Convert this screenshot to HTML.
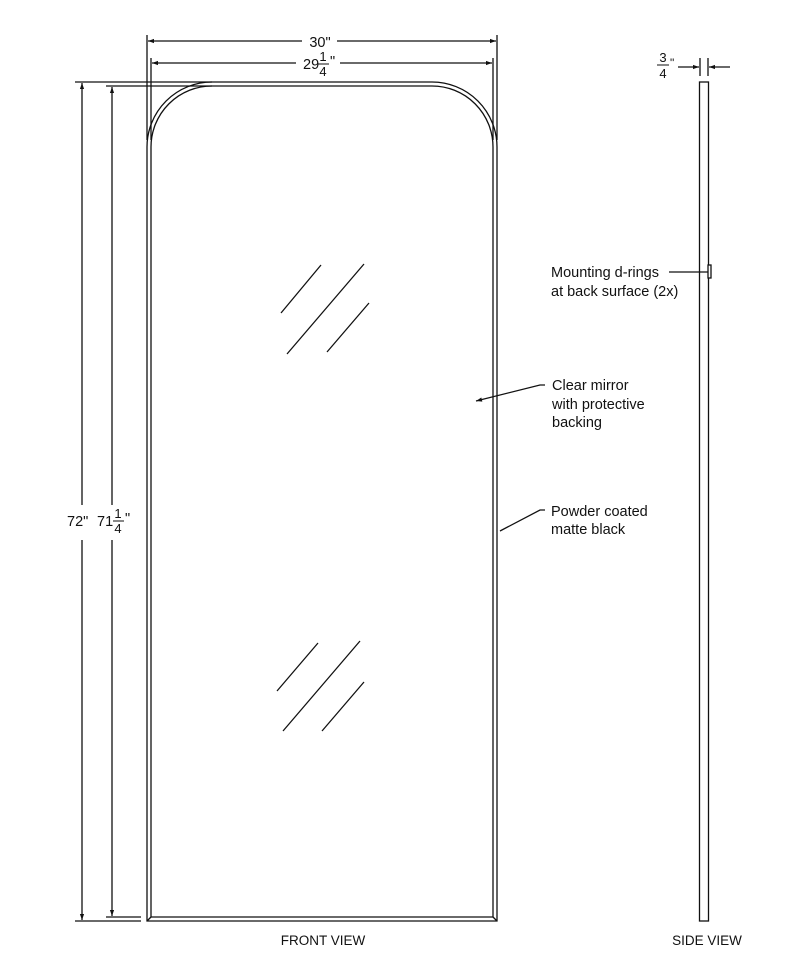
<!DOCTYPE html>
<html><head><style>body{margin:0;background:#fff}svg{display:block}text{font-family:"Liberation Sans",Arial,sans-serif;fill:#111}</style></head>
<body>
<svg width="800" height="980" viewBox="0 0 800 980" xmlns="http://www.w3.org/2000/svg">
<defs><marker id="a" viewBox="0 0 10 10" refX="10" refY="5" markerWidth="9" markerHeight="6" orient="auto-start-reverse" markerUnits="userSpaceOnUse"><path d="M0,1.5 L10,5 L0,8.5 Z" fill="#111"/></marker></defs>
<g stroke="#111" stroke-width="1.3" fill="none">
<path d="M147,921 L147,147 A65,65 0 0 1 212,82 L432,82 A65,65 0 0 1 497,147 L497,921 Z"/>
<path d="M151,917 L151,147 A61,61 0 0 1 212,86 L432,86 A61,61 0 0 1 493,147 L493,917 Z"/>
<line x1="147" y1="921" x2="151" y2="917"/><line x1="497" y1="921" x2="493" y2="917"/>
<line x1="147" y1="35" x2="147" y2="140"/><line x1="497" y1="35" x2="497" y2="140"/>
<line x1="151" y1="58" x2="151" y2="140"/><line x1="493" y1="58" x2="493" y2="140"/>
<line x1="148" y1="41" x2="302" y2="41" marker-start="url(#a)"/><line x1="337" y1="41" x2="496" y2="41" marker-end="url(#a)"/>
<line x1="152" y1="63" x2="296" y2="63" marker-start="url(#a)"/><line x1="340" y1="63" x2="492" y2="63" marker-end="url(#a)"/>
<line x1="75" y1="82" x2="212" y2="82"/><line x1="106" y1="86" x2="212" y2="86"/>
<line x1="75" y1="921" x2="141" y2="921"/><line x1="106" y1="917" x2="141" y2="917"/>
<line x1="82" y1="83" x2="82" y2="505" marker-start="url(#a)"/><line x1="82" y1="540" x2="82" y2="920" marker-end="url(#a)"/>
<line x1="112" y1="87" x2="112" y2="505" marker-start="url(#a)"/><line x1="112" y1="540" x2="112" y2="916" marker-end="url(#a)"/>
<line x1="281" y1="313" x2="321" y2="265"/><line x1="287" y1="354" x2="364" y2="264"/><line x1="327" y1="352" x2="369" y2="303"/>
<line x1="277" y1="691" x2="318" y2="643"/><line x1="283" y1="731" x2="360" y2="641"/><line x1="322" y1="731" x2="364" y2="682"/>
<polyline points="545,385 540,385 476,401" marker-end="url(#a)"/>
<polyline points="545,510 540,510 500,531"/>
<line x1="669" y1="272" x2="708" y2="272"/>
<rect x="699.5" y="82" width="9" height="839"/>
<rect x="708" y="265" width="3" height="13" fill="#fff"/>
<line x1="700" y1="58" x2="700" y2="76"/><line x1="708" y1="58" x2="708" y2="76"/>
<line x1="678" y1="67" x2="699" y2="67" marker-end="url(#a)"/><line x1="730" y1="67" x2="709" y2="67" marker-end="url(#a)"/>
</g>
<g font-size="14.5">
<text x="320" y="47" text-anchor="middle">30"</text>
<text x="303" y="69">29</text><text x="323" y="61" font-size="13" text-anchor="middle">1</text>
<line x1="318" y1="64" x2="329" y2="64" stroke="#111"/><text x="323" y="76" font-size="13" text-anchor="middle">4</text><text x="330" y="66">"</text>
<text x="67" y="526">72"</text>
<text x="97" y="526">71</text><text x="118" y="518" font-size="13" text-anchor="middle">1</text>
<line x1="113" y1="521" x2="124" y2="521" stroke="#111"/><text x="118" y="533" font-size="13" text-anchor="middle">4</text><text x="125" y="523">"</text>
<text x="663" y="62" font-size="13" text-anchor="middle">3</text><line x1="657" y1="65" x2="669" y2="65" stroke="#111"/>
<text x="663" y="78" font-size="13" text-anchor="middle">4</text><text x="670" y="67" font-size="12">"</text>
<text x="551" y="277">Mounting d-rings</text><text x="551" y="296">at back surface (2x)</text>
<text x="552" y="390">Clear mirror</text><text x="552" y="409">with protective</text><text x="552" y="427">backing</text>
<text x="551" y="516">Powder coated</text><text x="551" y="534">matte black</text>
<text x="323" y="945" text-anchor="middle" font-size="13.5">FRONT VIEW</text>
<text x="707" y="945" text-anchor="middle" font-size="13.5">SIDE VIEW</text>
</g>
</svg>
</body></html>
